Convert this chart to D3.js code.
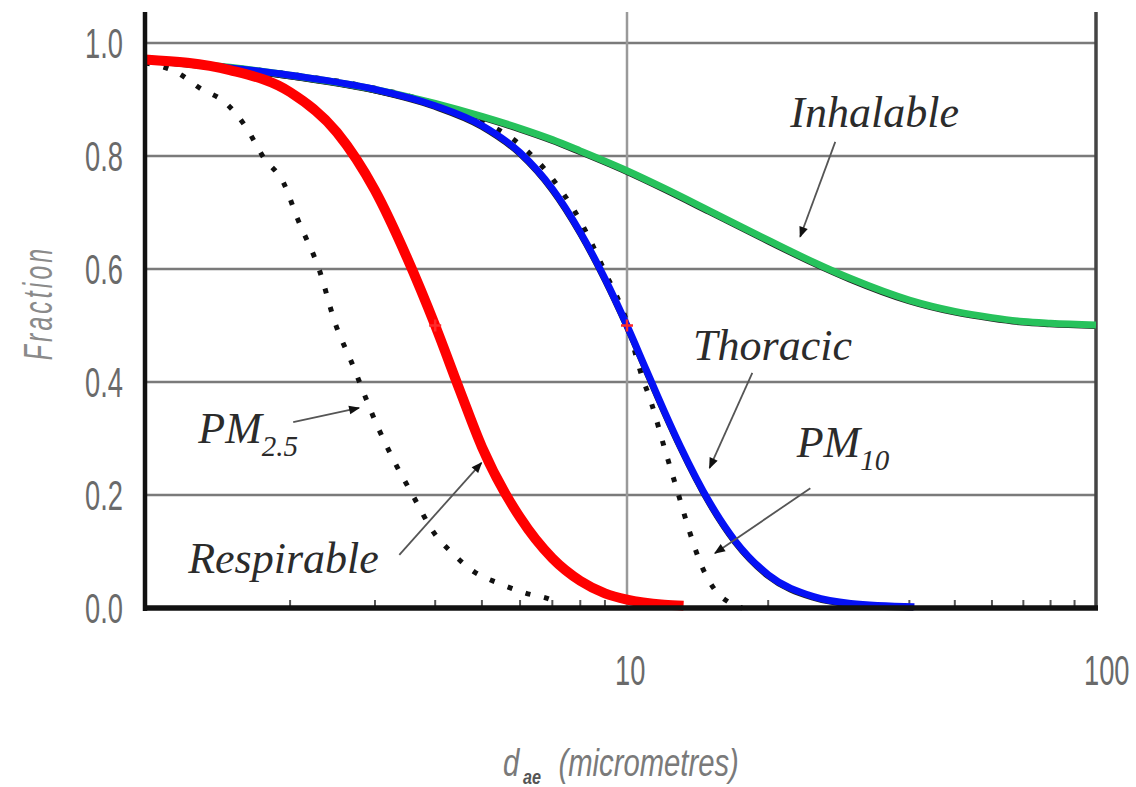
<!DOCTYPE html>
<meta charset="utf-8">
<script src="https://d3js.org/d3.v7.min.js"></script>
<style>
  body { margin: 0; background: #fff; }
</style>
<div id="chart"></div>
<script>

// particle size (micrometres) and fraction
var inhalableSize  = [1, 1.5, 2, 3, 4, 5, 6, 7, 8, 10, 12, 15, 20, 25, 30, 40, 50, 60, 70, 80, 100];
var inhalableValue = [0.971, 0.957, 0.943, 0.918, 0.893, 0.870, 0.849, 0.829, 0.809, 0.774, 0.743, 0.703, 0.651, 0.612, 0.583, 0.545, 0.525, 0.514, 0.507, 0.504, 0.501];

var thoracicSize  = [1, 2, 3, 4, 5, 6, 7, 8, 9, 10, 11, 12, 13, 15, 17, 20, 25, 30, 41];
var thoracicValue = [0.971, 0.943, 0.918, 0.889, 0.854, 0.806, 0.742, 0.665, 0.583, 0.500, 0.421, 0.349, 0.286, 0.187, 0.119, 0.059, 0.020, 0.008, 0.002];

var respirableSize  = [1, 1.5, 2, 2.5, 3, 3.5, 4, 4.5, 5, 6, 7, 8, 9, 10, 12, 13.2];
var respirableValue = [0.971, 0.952, 0.913, 0.842, 0.739, 0.619, 0.500, 0.385, 0.285, 0.160, 0.088, 0.048, 0.026, 0.015, 0.006, 0.004];

var pm25Size  = [1, 1.17, 1.3, 1.47, 1.62, 1.76, 1.94, 2.07, 2.3, 2.49, 2.67, 3.06, 3.32, 3.57, 4.0, 4.32, 4.82, 5.41, 6.13, 6.98, 7.3];
var pm25Value = [0.965, 0.947, 0.920, 0.894, 0.851, 0.798, 0.752, 0.690, 0.598, 0.500, 0.439, 0.315, 0.253, 0.204, 0.130, 0.099, 0.064, 0.044, 0.027, 0.014, 0.006];

var pm10Size  = [1, 2, 3, 4, 5, 6, 7, 8, 9, 10, 10.66, 11.31, 12.05, 12.84, 13.56, 14.45, 15.4, 16.5, 17.6];
var pm10Value = [0.970, 0.945, 0.920, 0.893, 0.862, 0.820, 0.760, 0.685, 0.595, 0.505, 0.421, 0.359, 0.280, 0.204, 0.138, 0.073, 0.032, 0.010, 0.0];

// 50% cut points marked in red
var cutSize = [4, 10];
var cutValue = [0.5, 0.5];

var yTicks = [0, 0.2, 0.4, 0.6, 0.8, 1.0];
var xLabels = [10, 100];
var minorTicks = [2, 3, 4, 5, 6, 7, 8, 9, 20, 30, 40, 50, 60, 70, 80, 90];

// labels: [text, subscript, size at left of text, fraction at baseline]
var labels = [
  ["Inhalable", "", 22.3, 0.851],
  ["Thoracic", "", 13.83, 0.439],
  ["PM", "10", 23.0, 0.267],
  ["PM", "2.5", 1.29, 0.292],
  ["Respirable", "", 1.229, 0.062]
];
// arrows: [from size, from fraction, to size, to fraction]
var arrows = [
  [27.8, 0.825, 23.4, 0.657],
  [18.5, 0.416, 15.0, 0.248],
  [24.6, 0.212, 15.4, 0.097],
  [2.03, 0.329, 2.78, 0.354],
  [3.37, 0.094, 4.99, 0.257]
];

var width = 1136, height = 787;

var svg = d3.select("#chart")
  .append("svg")
  .attr("width", width)
  .attr("height", height);

// the printed decades are not quite equal, hence the 3-point domain
var x = d3.scaleLog().domain([1, 10, 100]).range([145, 627, 1096]);
var y = d3.scaleLinear().domain([0, 1]).range([608, 43]);
var yTop = 12;

var sans = "'Liberation Sans', Arial, sans-serif";

// arrow head
svg.append("defs").append("marker")
  .attr("id", "arrow")
  .attr("viewBox", "0 0 10 10")
  .attr("refX", 9).attr("refY", 5)
  .attr("markerWidth", 13).attr("markerHeight", 11)
  .attr("markerUnits", "userSpaceOnUse")
  .attr("orient", "auto")
  .append("path")
  .attr("d", "M0,1L10,5L0,9z")
  .attr("fill", "#111");

// horizontal grid lines
svg.selectAll(".hgrid")
  .data(yTicks.filter(function(d) { return d > 0; }))
  .enter().append("line")
  .attr("x1", x(1)).attr("x2", x(100))
  .attr("y1", function(d) { return y(d); })
  .attr("y2", function(d) { return y(d); })
  .style("stroke", "#7a7a7a")
  .style("stroke-width", 2.5);

// vertical line at 10
svg.append("line")
  .attr("x1", x(10)).attr("x2", x(10))
  .attr("y1", yTop).attr("y2", y(0))
  .style("stroke", "#9a9a9a")
  .style("stroke-width", 2.5);

// minor ticks
svg.selectAll(".minor")
  .data(minorTicks)
  .enter().append("line")
  .attr("x1", function(d) { return x(d); })
  .attr("x2", function(d) { return x(d); })
  .attr("y1", y(0) - 8).attr("y2", y(0))
  .style("stroke", "#555")
  .style("stroke-width", 2);

// right border
svg.append("line")
  .attr("x1", x(100)).attr("x2", x(100))
  .attr("y1", yTop).attr("y2", y(0) + 2)
  .style("stroke", "#444")
  .style("stroke-width", 3.5);

function series(sizes, values) {
  return sizes.map(function(s, i) { return [s, values[i]]; });
}

var line = d3.line()
  .x(function(d) { return x(d[0]); })
  .y(function(d) { return y(d[1]); })
  .curve(d3.curveMonotoneX);

// dotted curves
[series(pm25Size, pm25Value), series(pm10Size, pm10Value)].forEach(function(s) {
  svg.append("path")
    .attr("d", line(s))
    .style("fill", "none")
    .style("stroke", "#111")
    .style("stroke-width", 5)
    .style("stroke-dasharray", "5,14");
});

// black under-lines that show at the edges of the coloured curves
[series(inhalableSize, inhalableValue), series(thoracicSize, thoracicValue)].forEach(function(s) {
  svg.append("path")
    .attr("d", line(s))
    .attr("transform", "translate(-1,2)")
    .style("fill", "none")
    .style("stroke", "#222")
    .style("stroke-width", 4);
});

var coloured = [
  {data: series(inhalableSize, inhalableValue), color: "#27c25c", w: 7},
  {data: series(thoracicSize, thoracicValue), color: "#0511f5", w: 7},
  {data: series(respirableSize, respirableValue), color: "#ff0000", w: 10}
];
coloured.forEach(function(c) {
  svg.append("path")
    .attr("d", line(c.data))
    .style("fill", "none")
    .style("stroke", c.color)
    .style("stroke-width", c.w);
});

// red cut markers
cutSize.forEach(function(s, i) {
  var cx = x(s), cy = y(cutValue[i]);
  svg.append("path")
    .attr("d", "M" + (cx - 6) + "," + cy + "H" + (cx + 6) +
               "M" + cx + "," + (cy - 6) + "V" + (cy + 6))
    .style("stroke", "#ff2a2a")
    .style("stroke-width", 2.5);
});

// axes
svg.append("line")
  .attr("x1", x(1)).attr("x2", x(1))
  .attr("y1", yTop).attr("y2", y(0) + 3)
  .style("stroke", "#111")
  .style("stroke-width", 4.5);
svg.append("line")
  .attr("x1", x(1) - 2).attr("x2", x(100) + 2)
  .attr("y1", y(0)).attr("y2", y(0))
  .style("stroke", "#111")
  .style("stroke-width", 5.5);

// y tick labels (tall, narrow digits)
svg.selectAll(".ylab")
  .data(yTicks)
  .enter().append("text")
  .attr("transform", function(d) { return "translate(123," + y(d) + ") scale(0.65,1)"; })
  .attr("dy", "0.36em")
  .style("text-anchor", "end")
  .style("font-family", sans)
  .style("font-size", "42px")
  .style("fill", "#6a6a6a")
  .text(function(d) { return d.toFixed(1); });

// x tick labels
svg.selectAll(".xlab")
  .data(xLabels)
  .enter().append("text")
  .attr("transform", function(d) { return "translate(" + (x(d) - 12) + ",685) scale(0.65,1)"; })
  .style("text-anchor", "start")
  .style("font-family", sans)
  .style("font-size", "42px")
  .style("fill", "#6a6a6a")
  .text(function(d) { return d; });

// axis titles
svg.append("text")
  .attr("transform", "translate(52,303) rotate(-90) scale(0.62,1)")
  .style("text-anchor", "middle")
  .style("font-family", sans)
  .style("font-style", "italic")
  .style("font-size", "40px")
  .style("letter-spacing", "5px")
  .style("fill", "#8a8a8a")
  .text("Fraction");

var xt = svg.append("text")
  .attr("transform", "translate(503,776) scale(0.77,1)")
  .style("font-family", sans)
  .style("font-style", "italic")
  .style("font-size", "38px")
  .style("fill", "#7a7a7a");
xt.append("tspan").text("d");
xt.append("tspan").attr("dy", 8).attr("dx", 5)
  .style("font-size", "21px").style("font-weight", "bold").style("fill", "#555")
  .text("ae");
xt.append("tspan").attr("x", 72).attr("dy", -8).text("(micrometres)");

// curve labels
labels.forEach(function(l) {
  var t = svg.append("text")
    .attr("x", x(l[2])).attr("y", y(l[3]))
    .style("font-family", "'Liberation Serif', 'Times New Roman', serif")
    .style("font-style", "italic")
    .style("font-size", "44px")
    .style("fill", "#2b2b2b")
    .text(l[0]);
  if (l[1]) {
    t.append("tspan").attr("dy", 13)
      .style("font-size", "29px")
      .text(l[1]);
  }
});

// arrows
svg.selectAll(".arrow")
  .data(arrows)
  .enter().append("line")
  .attr("x1", function(d) { return x(d[0]); })
  .attr("y1", function(d) { return y(d[1]); })
  .attr("x2", function(d) { return x(d[2]); })
  .attr("y2", function(d) { return y(d[3]); })
  .style("stroke", "#555")
  .style("stroke-width", 1.8)
  .attr("marker-end", "url(#arrow)");

</script>
